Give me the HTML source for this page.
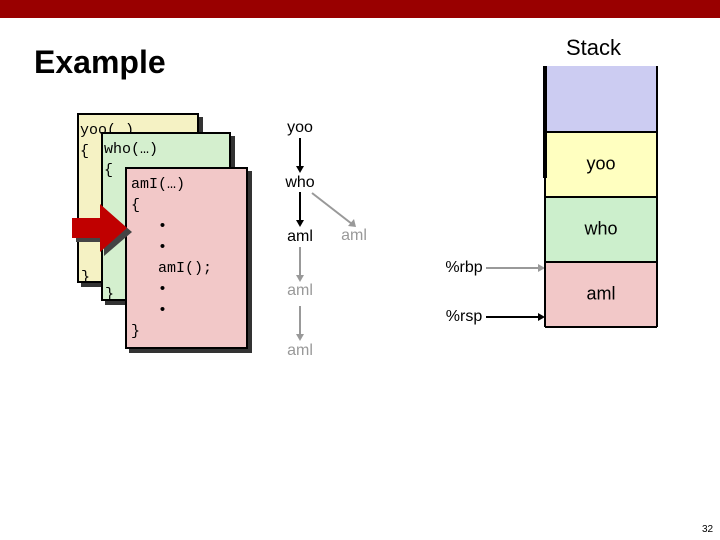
<!DOCTYPE html>
<html><head><style>
body{margin:0;width:720px;height:540px;background:#fff;position:relative;overflow:hidden;font-family:"Liberation Sans",sans-serif}
.a{position:absolute}
.box{position:absolute;border:2px solid #000;box-shadow:4px 4px 0 #333;font-family:"Liberation Mono",monospace;font-size:15px;line-height:21px;white-space:pre;box-sizing:border-box;padding:5px 0 0 1px;overflow:hidden}
.br{position:absolute;font-family:"Liberation Mono",monospace;font-size:15px;line-height:15px}
.t{position:absolute;font-size:16px;transform:translate(-50%,-50%)}
</style></head><body>
<div class="a" style="left:0;top:0;width:720px;height:18px;background:#990000"></div>
<div class="a" style="left:34px;top:44px;font-size:32px;font-weight:bold">Example</div>
<div class="a" style="left:566px;top:35px;font-size:22px">Stack</div>

<div class="box" style="left:77px;top:113px;width:122px;height:170px;background:#f5f2c4">yoo(…)
{<span class="br" style="left:2px;top:155px">}</span></div>
<div class="box" style="left:101px;top:132px;width:130px;height:169px;background:#d4efce">who(…)
{<span class="br" style="left:2px;top:153px">}</span></div>
<div class="box" style="left:125px;top:167px;width:123px;height:182px;background:#f2c8c8;padding-left:4px">amI(…)
{
   •
   •
   amI();
   •
   •
}</div>
<svg class="a" style="left:0;top:0" width="720" height="540">
<polygon points="76,222 104,222 104,208 132,232 104,256 104,242 76,242" fill="#444"/>
<polygon points="72,218 100,218 100,204 127,228 100,252 100,238 72,238" fill="#c00000"/>
<g stroke="#000" stroke-width="2" fill="#000">
<line x1="300" y1="138" x2="300" y2="168"/><polygon points="296,166 304,166 300,173" stroke="none"/>
<line x1="300" y1="192" x2="300" y2="222"/><polygon points="296,220 304,220 300,227" stroke="none"/>
<line x1="486" y1="317" x2="540" y2="317"/><polygon points="538,313 538,321 545,317" stroke="none"/>
</g>
<g stroke="#999" stroke-width="2" fill="#999">
<line x1="312" y1="193" x2="352" y2="224"/><polygon points="348,226 354,219 356,227" stroke="none"/>
<line x1="300" y1="247" x2="300" y2="277"/><polygon points="296,275 304,275 300,282" stroke="none"/>
<line x1="300" y1="306" x2="300" y2="336"/><polygon points="296,334 304,334 300,341" stroke="none"/>
<line x1="486" y1="268" x2="540" y2="268"/><polygon points="538,264 538,272 545,268" stroke="none"/>
</g>
<rect x="545" y="66" width="112" height="66" fill="#ccccf2"/>
<rect x="545" y="132" width="112" height="65" fill="#ffffc0"/>
<rect x="545" y="197" width="112" height="65" fill="#ccefcc"/>
<rect x="545" y="262" width="112" height="65" fill="#f2c8c8"/>
<g stroke="#000" stroke-width="2" fill="none">
<line x1="545" y1="66" x2="545" y2="327"/><line x1="657" y1="66" x2="657" y2="327"/>
<line x1="545" y1="132" x2="657" y2="132"/><line x1="545" y1="197" x2="657" y2="197"/>
<line x1="545" y1="262" x2="657" y2="262"/><line x1="545" y1="327" x2="657" y2="327"/>
</g>
<line x1="545" y1="66" x2="545" y2="178" stroke="#000" stroke-width="4"/>
</svg>
<div class="t" style="left:300px;top:128px">yoo</div>
<div class="t" style="left:300px;top:183px">who</div>
<div class="t" style="left:300px;top:237px">aml</div>
<div class="t" style="left:354px;top:236px;color:#999">aml</div>
<div class="t" style="left:300px;top:291px;color:#999">aml</div>
<div class="t" style="left:300px;top:351px;color:#999">aml</div>
<div class="t" style="left:601px;top:164px;font-size:18px">yoo</div>
<div class="t" style="left:601px;top:229px;font-size:18px">who</div>
<div class="t" style="left:601px;top:294px;font-size:18px">aml</div>
<div class="t" style="left:464px;top:268px">%rbp</div>
<div class="t" style="left:464px;top:317px">%rsp</div>
<div class="a" style="left:702px;top:524px;font-size:10px">32</div>
</body></html>
